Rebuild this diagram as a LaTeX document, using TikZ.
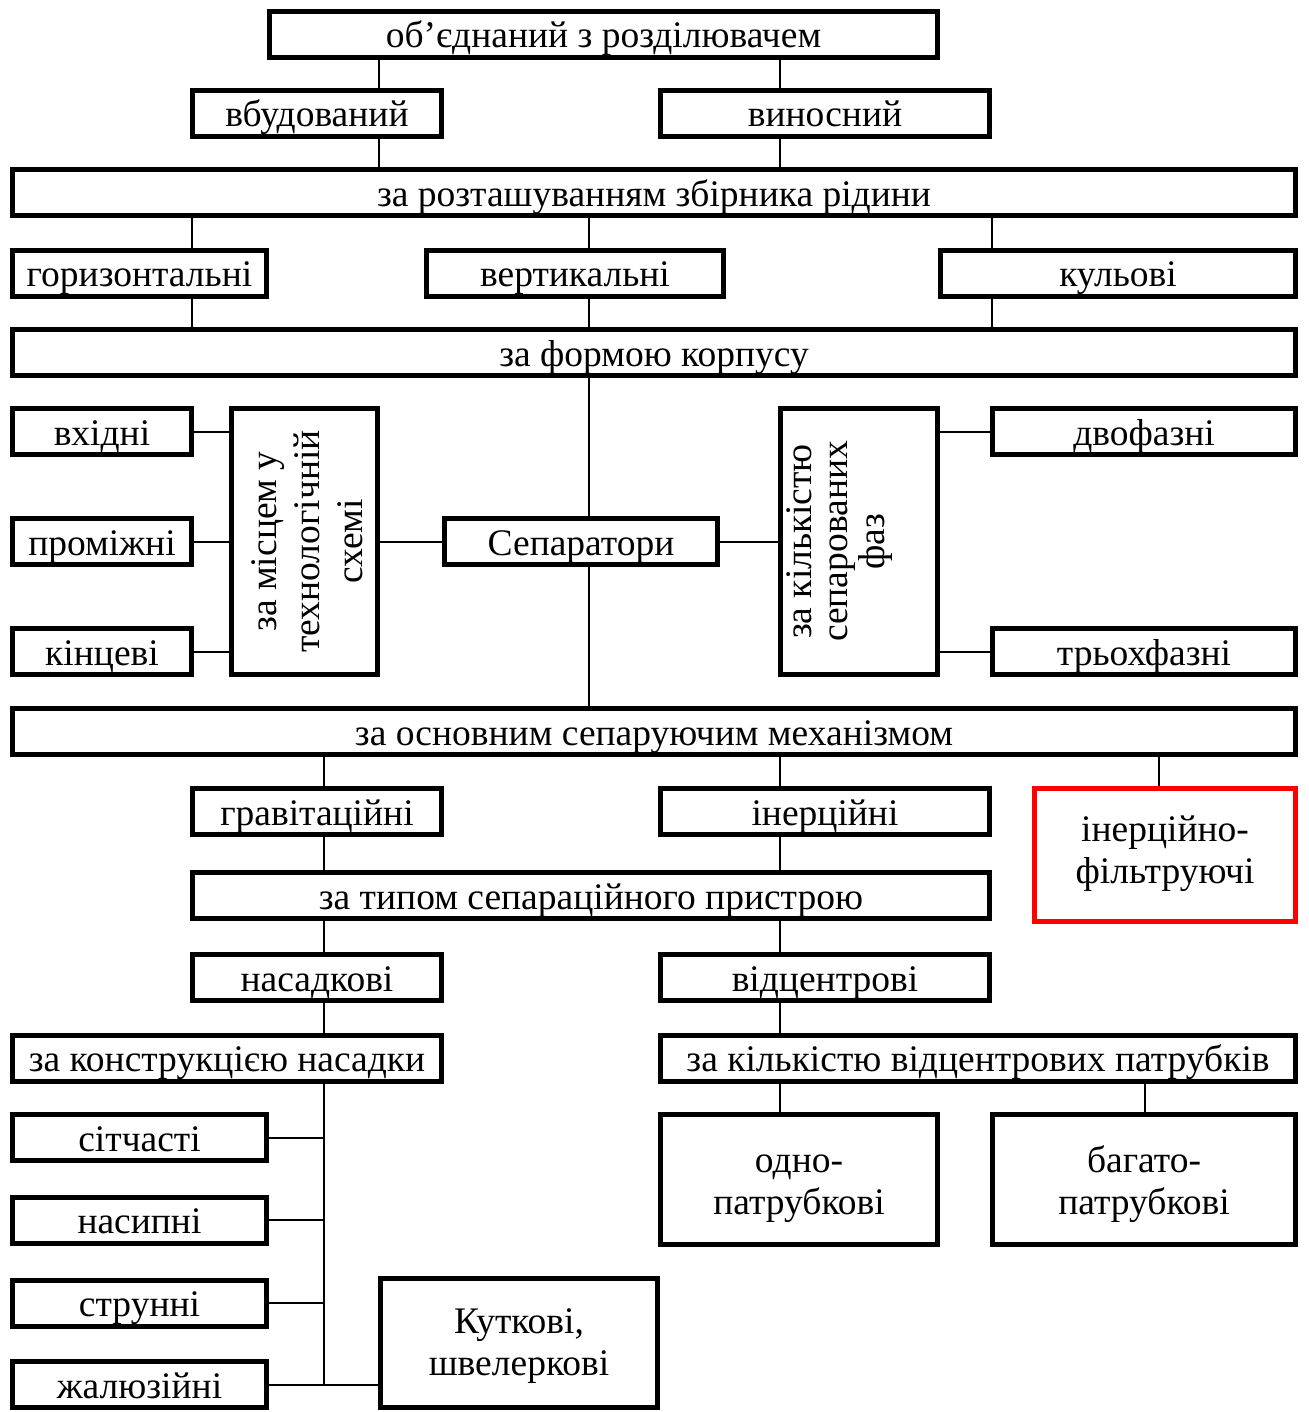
\documentclass[tikz,border=0pt]{standalone}
\usepackage{fontspec}
\setmainfont{Liberation Serif}

\begin{document}
\begin{tikzpicture}[x=0.5pt,y=-0.5pt,
		box/.style={draw,line width=2.5pt,inner sep=0pt,minimum height=23pt,align=center,
			text height=14pt,text depth=0.5pt,font=\fontsize{18.75}{21}\selectfont},
		twoline/.style={box,text height=35pt},
		redbox/.style={box,draw=red,text height=28.5pt},
		turned/.style={box,text height=,text depth=},
		link/.style={line width=1pt}]
	\useasboundingbox (0,0) rectangle (1308,1412);
	\coordinate (cA) at (379,0);
	\coordinate (cB) at (780,0);
	\coordinate (cC) at (192,0);
	\coordinate (cD) at (589,0);
	\coordinate (cE) at (992,0);
	\coordinate (cF) at (324,0);
	\coordinate (cG) at (1159,0);
	\coordinate (cH) at (1145,0);

	\node[box,minimum width=334pt] (obyed) at (603.5,34.5) {об’єднаний з розділювачем};
	\node[box,minimum width=124.5pt] (vbud) at (317,113.5) {вбудований};
	\node[box,minimum width=164.5pt] (vynos) at (825,113.5) {виносний};
	\node[box,minimum width=641.5pt] (rozt) at (654,193) {за розташуванням збірника рідини};
	\node[box,minimum width=127pt] (horyz) at (139.5,273) {горизонтальні};
	\node[box,minimum width=148.5pt] (vert) at (575,273) {вертикальні};
	\node[box,minimum width=177.5pt] (kul) at (1118,273) {кульові};
	\node[box,minimum width=641.5pt] (forma) at (654,352.5) {за формою корпусу};
	\node[box,minimum width=89.5pt] (vkhid) at (102,431.5) {вхідні};
	\node[box,minimum width=89.5pt] (promizh) at (102,541.5) {проміжні};
	\node[box,minimum width=89.5pt] (kinc) at (102,651.5) {кінцеві};
	\node[turned,minimum width=73pt,minimum height=133pt] (misce) at (304.5,541.5)
		{\mbox{\kern6pt\rotatebox{90}{\fontsize{18.75}{21.5}\selectfont\begin{tabular}{@{}c@{}}за місцем у\\технологічній\\схемі\end{tabular}}}};
	\node[box,minimum width=136.5pt] (separ) at (581,541.5) {Сепаратори};
	\node[turned,minimum width=78.5pt,minimum height=133pt] (kilfaz) at (859,541.5)
		{\mbox{\rotatebox{90}{\fontsize{18.75}{18}\selectfont\begin{tabular}{@{}c@{}}за кількістю\\сепарованих\\фаз\end{tabular}}\kern18pt}};
	\node[box,minimum width=151.5pt] (dvof) at (1144,431.5) {двофазні};
	\node[box,minimum width=151.5pt] (tryokh) at (1144,651.5) {трьохфазні};
	\node[box,minimum width=641.5pt] (mekh) at (654,731.5) {за основним сепаруючим механізмом};
	\node[box,minimum width=124.5pt] (hrav) at (317,811.5) {гравітаційні};
	\node[box,minimum width=164.5pt] (iner) at (825,811.5) {інерційні};
	\node[redbox,minimum width=130.5pt,minimum height=66.5pt] (inerfilt) at (1165,855) {інерційно-\\фільтруючі};
	\node[box,minimum width=398.5pt] (typ) at (591,895.5) {за типом сепараційного пристрою};
	\node[box,minimum width=124.5pt] (nasad) at (317,977.5) {насадкові};
	\node[box,minimum width=164.5pt] (vidc) at (825,977.5) {відцентрові};
	\node[box,minimum width=214.5pt] (konstr) at (227,1058) {за конструкцією насадки};
	\node[box,minimum width=317.5pt] (patr) at (978,1058) {за кількістю відцентрових патрубків};
	\node[box,minimum width=127pt] (sitch) at (139.5,1137.5) {сітчасті};
	\node[box,minimum width=127pt] (nasyp) at (139.5,1220) {насипні};
	\node[box,minimum width=127pt] (strun) at (139.5,1303) {струнні};
	\node[box,minimum width=127pt] (zhal) at (139.5,1384.5) {жалюзійні};
	\node[twoline,minimum width=138.5pt,minimum height=64.5pt,text height=32.5pt] (kutk) at (519,1343) {Куткові,\\швелеркові};
	\node[twoline,minimum width=138.5pt,minimum height=65pt] (odno) at (799,1179.5) {одно-\\патрубкові};
	\node[twoline,minimum width=151.5pt,minimum height=65pt] (bagato) at (1144,1179.5) {багато-\\патрубкові};

	\draw[link] (cA |- obyed.south) -- (cA |- vbud.north);
	\draw[link] (cB |- obyed.south) -- (cB |- vynos.north);
	\draw[link] (cA |- vbud.south) -- (cA |- rozt.north);
	\draw[link] (cB |- vynos.south) -- (cB |- rozt.north);
	\foreach \c/\n in {cC/horyz,cD/vert,cE/kul} {
		\draw[link] (\c |- rozt.south) -- (\c |- \n.north);
		\draw[link] (\c |- \n.south) -- (\c |- forma.north);
	}
	\draw[link] (cD |- forma.south) -- (cD |- separ.north);
	\draw[link] (cD |- separ.south) -- (cD |- mekh.north);
	\draw[link] (separ.west) -- (misce.east);
	\draw[link] (separ.east) -- (kilfaz.west);
	\foreach \n in {vkhid,promizh,kinc}
		\draw[link] (\n.east) -- (\n.east -| misce.west);
	\foreach \n in {dvof,tryokh}
		\draw[link] (\n.west) -- (\n.west -| kilfaz.east);
	\draw[link] (cF |- mekh.south) -- (cF |- hrav.north);
	\draw[link] (cB |- mekh.south) -- (cB |- iner.north);
	\draw[link] (cG |- mekh.south) -- (cG |- inerfilt.north);
	\draw[link] (cF |- hrav.south) -- (cF |- typ.north);
	\draw[link] (cB |- iner.south) -- (cB |- typ.north);
	\draw[link] (cF |- typ.south) -- (cF |- nasad.north);
	\draw[link] (cB |- typ.south) -- (cB |- vidc.north);
	\draw[link] (cF |- nasad.south) -- (cF |- konstr.north);
	\draw[link] (cB |- vidc.south) -- (cB |- patr.north);
	\draw[link] (cF |- konstr.south) -- (cF |- zhal.east);
	\foreach \n in {sitch,nasyp,strun,zhal}
		\draw[link] (\n.east) -- (\n.east -| cF);
	\draw[link] (cF |- zhal.east) -- (kutk.west |- zhal.east);
	\draw[link] (cB |- patr.south) -- (cB |- odno.north);
	\draw[link] (cH |- patr.south) -- (cH |- bagato.north);
\end{tikzpicture}
\end{document}
